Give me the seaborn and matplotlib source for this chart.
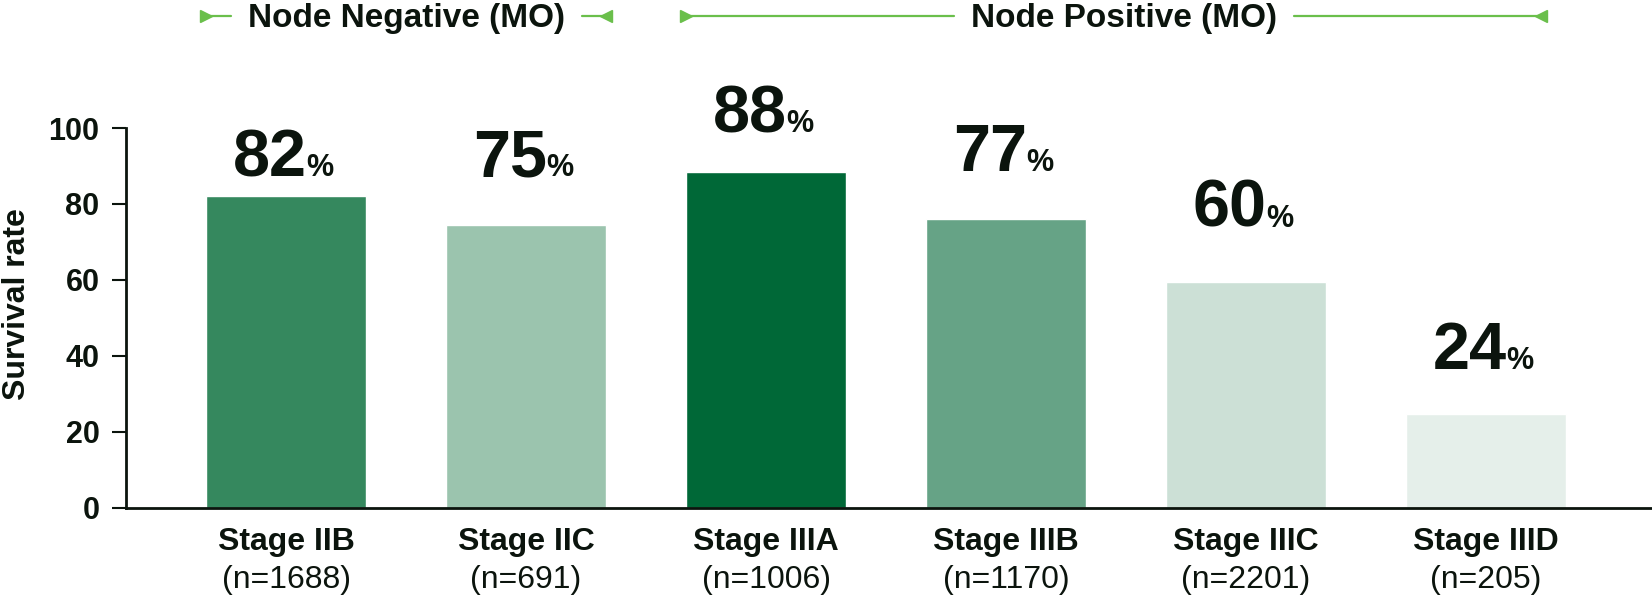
import numpy as np
import pandas as pd
import seaborn as sns
import matplotlib.pyplot as plt
import matplotlib.transforms as mtransforms

# data
stages = ['Stage IIB', 'Stage IIC', 'Stage IIIA', 'Stage IIIB', 'Stage IIIC', 'Stage IIID']
n_labels = ['(n=1688)', '(n=691)', '(n=1006)', '(n=1170)', '(n=2201)', '(n=205)']
survival = [82.2, 74.4, 88.5, 75.9, 59.5, 24.7]
pct_labels = ['82', '75', '88', '77', '60', '24']
bar_colors = ['#35885E', '#9BC4AE', '#006837', '#66A386', '#CCE0D6', '#E5EFEA']
groups = ['Node Negative (MO)', 'Node Positive (MO)']

# layout bits
label_pad = [5.1, 12.9, 10.4, 12.7, 14.5, 11.8]
group_span = [(-0.333, 1.333), (1.667, 5.23)]
group_center = [0.5, 3.49]

txt = '#0b140d'
green = '#6ABF4B'

sns.set_theme(style='ticks')
plt.rcParams['font.family'] = ['Liberation Sans', 'DejaVu Sans']

df = pd.DataFrame({'stage': stages, 'rate': survival})

fig = plt.figure(figsize=(16.52, 5.96), dpi=100)
ax = fig.add_axes([126 / 1652, 88.5 / 596, 1 - 126 / 1652, 379.5 / 596])

sns.barplot(data=df, x='stage', y='rate', hue='stage', palette=bar_colors,
            legend=False, width=0.667, saturation=1, ax=ax)

ax.set_xlim(-0.667, 5.692)
ax.set_ylim(0, 100)
ax.set_yticks([0, 20, 40, 60, 80, 100])
ax.set_xlabel('')
ax.set_ylabel('')
sns.despine(ax=ax)
for s in ['left', 'bottom']:
    ax.spines[s].set_linewidth(2)
    ax.spines[s].set_color(txt)
ax.tick_params(axis='y', length=10, width=1.5, pad=9, labelsize=22, colors=txt)
ax.tick_params(axis='x', length=0, pad=14, labelsize=23, colors=txt)
for lab in ax.get_yticklabels() + ax.get_xticklabels():
    lab.set_fontweight('bold')

# sample sizes under stage names
for i, n in enumerate(n_labels):
    ax.text(i, -0.212, n, transform=ax.get_xaxis_transform(), ha='center',
            va='baseline', fontsize=23, color=txt)

# big percentage labels
for i, (v, p) in enumerate(zip(survival, pct_labels)):
    y = v + label_pad[i]
    ax.annotate(p, (i, y), xytext=(21, 0), textcoords='offset pixels',
                ha='right', va='baseline', fontsize=48, fontweight='bold', color=txt)
    ax.annotate('%', (i, y), xytext=(20, 0), textcoords='offset pixels',
                ha='left', va='baseline', fontsize=22, fontweight='bold', color=txt)

fig.text(17 / 1652, 0.49, 'Survival rate', rotation=90, ha='center', va='center',
         fontsize=23, fontweight='bold', color=txt)

# group brackets on top
blend = mtransforms.blended_transform_factory(ax.transData, fig.transFigure)
line_y = 1 - 16 / 596
fig.canvas.draw()
renderer = fig.canvas.get_renderer()
inv = ax.transData.inverted()
for g, (x0, x1), xc in zip(groups, group_span, group_center):
    t = ax.text(xc, 1 - 19 / 596, g, transform=blend, ha='center',
                va='center', fontsize=24, fontweight='bold', color=txt)
    bb = t.get_window_extent(renderer)
    tl = inv.transform((bb.x0 - 17, 0))[0]
    tr = inv.transform((bb.x1 + 17, 0))[0]
    ax.plot([x0, tl], [line_y, line_y], color=green, lw=1.6, transform=blend, clip_on=False)
    ax.plot([tr, x1], [line_y, line_y], color=green, lw=1.6, transform=blend, clip_on=False)
    ax.plot([x0], [line_y], marker='>', color=green, ms=9, transform=blend, clip_on=False)
    ax.plot([x1], [line_y], marker='<', color=green, ms=9, transform=blend, clip_on=False)

fig.savefig('out.png', dpi=100)
